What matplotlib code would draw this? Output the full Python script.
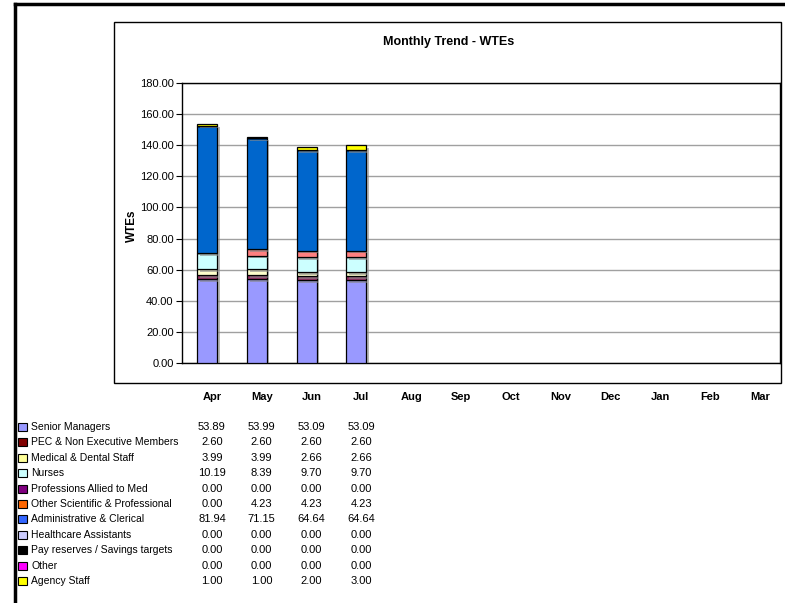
import matplotlib
matplotlib.use("Agg")
import matplotlib.pyplot as plt
import matplotlib.patheffects as pe
from matplotlib.patches import Rectangle
from matplotlib.lines import Line2D
from matplotlib.transforms import blended_transform_factory

plt.rcParams['font.family'] = ['Liberation Sans', 'DejaVu Sans']

months = ['Apr', 'May', 'Jun', 'Jul', 'Aug', 'Sep', 'Oct', 'Nov', 'Dec', 'Jan', 'Feb', 'Mar']

staff_groups = [
    'Senior Managers',
    'PEC & Non Executive Members',
    'Medical & Dental Staff',
    'Nurses',
    'Professions Allied to Med',
    'Other Scientific & Professional',
    'Administrative & Clerical',
    'Healthcare Assistants',
    'Pay reserves / Savings targets',
    'Other',
    'Agency Staff',
]

# WTEs per staff group, Apr..Jul (rest of year not yet reported)
senior_managers = [53.89, 53.99, 53.09, 53.09]
pec_members = [2.60, 2.60, 2.60, 2.60]
medical_dental = [3.99, 3.99, 2.66, 2.66]
nurses = [10.19, 8.39, 9.70, 9.70]
allied_to_med = [0.00, 0.00, 0.00, 0.00]
other_scientific = [0.00, 4.23, 4.23, 4.23]
admin_clerical = [81.94, 71.15, 64.64, 64.64]
healthcare_assistants = [0.00, 0.00, 0.00, 0.00]
pay_reserves = [0.00, 0.00, 0.00, 0.00]
other = [0.00, 0.00, 0.00, 0.00]
agency_staff = [1.00, 1.00, 2.00, 3.00]

series = [senior_managers, pec_members, medical_dental, nurses, allied_to_med,
          other_scientific, admin_clerical, healthcare_assistants, pay_reserves,
          other, agency_staff]

bar_colors = ['#9999FF', '#993366', '#FFFFCC', '#CCFFFF', '#660066', '#FF8080',
              '#0066CC', '#CCCCFF', '#000080', '#FF00FF', '#FFFF00']
key_colors = ['#9999FF', '#800000', '#FFFF99', '#CCFFFF', '#800080', '#FF6600',
              '#3366FF', '#CCCCFF', '#000000', '#FF00FF', '#FFFF00']

W, H = 785, 603
fig = plt.figure(figsize=(W / 100, H / 100), dpi=100)


def fx(px):
    return px / W


def fy(py):
    return 1 - py / H


# outer sheet frame
fig.add_artist(Line2D([fx(15), fx(15)], [fy(4), fy(603)], color='black', lw=2.5))
fig.add_artist(Line2D([fx(15), fx(785)], [fy(4), fy(4)], color='black', lw=2.5))

# chart area box
fig.add_artist(Rectangle((fx(114), fy(383)), fx(781) - fx(114), fy(22) - fy(383),
                         fill=False, edgecolor='black', lw=1.0))

fig.text(fx(449), fy(42), 'Monthly Trend - WTEs', ha='center', va='center',
         fontsize=9, fontweight='bold')

ax = fig.add_axes([fx(182), fy(363), fx(780) - fx(182), fy(83) - fy(363)])

x = list(range(len(months)))
n = len(senior_managers)
bottom = [0.0] * n
shadow = [pe.SimplePatchShadow(offset=(2, -2), shadow_rgbFace='#888888', alpha=0.6), pe.Normal()]
for vals, col in zip(series, bar_colors):
    bars = ax.bar(x[:n], vals, width=0.4, bottom=bottom, color=col,
                  edgecolor='black', linewidth=0.9, zorder=3)
    for b in bars:
        b.set_path_effects(shadow)
    bottom = [b + v for b, v in zip(bottom, vals)]

# table columns sit a little right of the bar centres
col_shift = 0.1

ax.set_xlim(-0.5, len(months) - 0.5)
ax.set_ylim(0, 180)
ax.set_yticks(range(0, 181, 20))
ax.set_yticklabels([f'{v:.2f}' for v in range(0, 181, 20)], fontsize=8)
ax.tick_params(axis='y', length=4, width=0.8, pad=2, direction='out')
ax.set_xticks([i + col_shift for i in x])
ax.set_xticklabels(months, fontsize=8, fontweight='bold')
ax.tick_params(axis='x', length=0, pad=21)
ax.grid(axis='y', color='#A0A0A0', lw=1.0, zorder=0)
for s in ax.spines.values():
    s.set_linewidth(1.0)
    s.set_color('black')

fig.text(fx(132), fy(226), 'WTEs', rotation=90, ha='center', va='center',
         fontsize=8.5, fontweight='bold')

# data table underneath with colour keys
tr = blended_transform_factory(ax.transData, fig.transFigure)
row_y0, row_step = 427, 15.4
for i, (name, vals, col) in enumerate(zip(staff_groups, series, key_colors)):
    yy = row_y0 + i * row_step
    fig.add_artist(Rectangle((fx(18), fy(yy + 4)), fx(9), fy(0) - fy(8),
                             facecolor=col, edgecolor='black', lw=0.8))
    fig.text(fx(31), fy(yy), name, ha='left', va='center', fontsize=7.5)
    for j, v in enumerate(vals):
        fig.text(j + col_shift, fy(yy), f'{v:.2f}', ha='center', va='center',
                 fontsize=8, transform=tr)

fig.savefig('out.png', dpi=100, facecolor='white')
